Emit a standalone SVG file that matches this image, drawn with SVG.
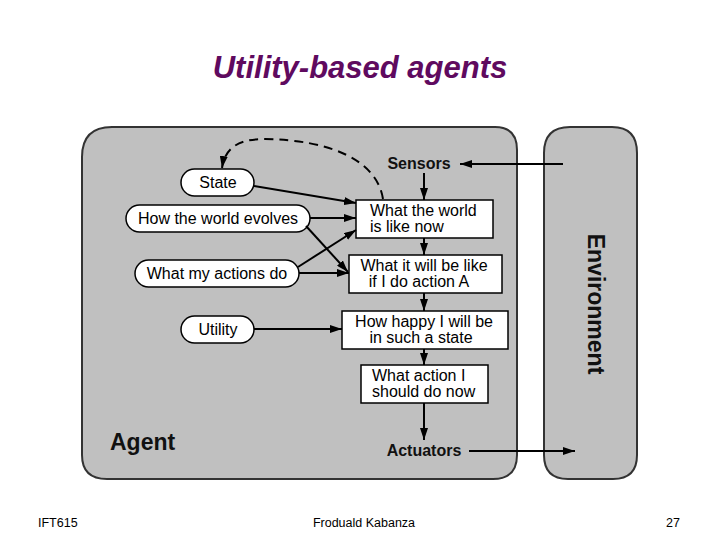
<svg xmlns="http://www.w3.org/2000/svg" width="720" height="540" viewBox="0 0 720 540">
<style>
.t{font-family:"Liberation Sans",Arial,sans-serif;font-size:16px;fill:#000}
.b{font-family:"Liberation Sans",Arial,sans-serif;font-weight:bold;fill:#111}
.pill{fill:#fff;stroke:#000;stroke-width:1.5}
.box{fill:#fff;stroke:#000;stroke-width:1.5}
.c{fill:none;stroke:#000;stroke-width:2}
.f{font-family:"Liberation Sans",Arial,sans-serif;font-size:12.5px;fill:#000}
</style>
<defs>
<marker id="ah" viewBox="0 0 12 8" refX="12" refY="4" markerWidth="12" markerHeight="8" markerUnits="userSpaceOnUse" orient="auto">
<path d="M0,0 L12,4 L0,8 z" fill="#000"/>
</marker>
</defs>
<rect width="720" height="540" fill="#fff"/>
<text x="360" y="78" text-anchor="middle" font-family="'Liberation Sans',Arial,sans-serif" font-style="italic" font-weight="bold" font-size="31" fill="#5f0a5f">Utility-based agents</text>
<g id="agent">
<path d="M112,127 L495,127 Q517,127 517,150 L517,455 Q517,479 493,479 L107,479 Q82,479 82,455 L82,157 Q82,127 112,127 z" fill="#c0c0c0" stroke="#333" stroke-width="2"/>
<text class="b" x="110" y="450" font-size="23">Agent</text>
</g>
<g id="environment">
<path d="M570,127 L612,127 Q637,127 637,153 L637,455 Q637,479 613,479 L568,479 Q544,479 544,455 L544,153 Q544,127 570,127 z" fill="#c0c0c0" stroke="#333" stroke-width="2"/>
<text class="b" x="0" y="0" font-size="23" text-anchor="middle" transform="translate(588,304) rotate(90)">Environment</text>
</g>
<g id="sensors"><text class="b" x="419" y="169" font-size="16" text-anchor="middle">Sensors</text></g>
<g id="actuators"><text class="b" x="424" y="456" font-size="16" text-anchor="middle">Actuators</text></g>
<g id="state"><rect class="pill" x="181" y="169" width="73" height="27" rx="13.5"/><text class="t" x="218" y="188" text-anchor="middle">State</text></g>
<g id="evolves"><rect class="pill" x="126" y="205" width="184" height="27" rx="13.5"/><text class="t" x="218" y="224" text-anchor="middle">How the world evolves</text></g>
<g id="actions"><rect class="pill" x="135" y="260" width="164" height="27" rx="13.5"/><text class="t" x="217" y="279" text-anchor="middle">What my actions do</text></g>
<g id="utility"><rect class="pill" x="181" y="316" width="73" height="27" rx="13.5"/><text class="t" x="218" y="335" text-anchor="middle">Utility</text></g>
<g id="now"><rect class="box" x="356" y="200" width="137" height="38"/><text class="t" x="370" y="216">What the world</text><text class="t" x="370" y="232">is like now</text></g>
<g id="willbe"><rect class="box" x="349" y="255" width="153" height="38"/><text class="t" x="424" y="271" text-anchor="middle">What it will be like</text><text class="t" x="419" y="287" text-anchor="middle">if I do action A</text></g>
<g id="happy"><rect class="box" x="342" y="311" width="166" height="38"/><text class="t" x="424" y="327" text-anchor="middle">How happy I will be</text><text class="t" x="421" y="343" text-anchor="middle">in such a state</text></g>
<g id="action"><rect class="box" x="361" y="365" width="127" height="38"/><text class="t" x="372" y="381">What action I</text><text class="t" x="372" y="397">should do now</text></g>
<g id="connectors">
<path class="c" d="M563,164 L460,164" marker-end="url(#ah)"/>
<path class="c" d="M424,173 L424,200" marker-end="url(#ah)"/>
<path class="c" d="M424,238 L424,255" marker-end="url(#ah)"/>
<path class="c" d="M424,293 L424,311" marker-end="url(#ah)"/>
<path class="c" d="M424,349 L424,365" marker-end="url(#ah)"/>
<path class="c" d="M424,403 L424,440" marker-end="url(#ah)"/>
<path class="c" d="M469,451 L575,451" marker-end="url(#ah)"/>
<path class="c" d="M254,186 L356,203" marker-end="url(#ah)"/>
<path class="c" d="M310,218 L356,218" marker-end="url(#ah)"/>
<path class="c" d="M306,226 L348,272" marker-end="url(#ah)"/>
<path class="c" d="M298,267 L356,230" marker-end="url(#ah)"/>
<path class="c" d="M299,273 L349,273" marker-end="url(#ah)"/>
<path class="c" d="M254,329 L342,329" marker-end="url(#ah)"/>
<path class="c" d="M383,199 C377,160 330,140 265,139 C238,139 225,148 222,168" stroke-dasharray="9,6" marker-end="url(#ah)"/>
</g>
<g id="footer">
<text class="f" x="38" y="527">IFT615</text>
<text class="f" x="364" y="527" text-anchor="middle">Froduald Kabanza</text>
<text class="f" x="680" y="527" text-anchor="end">27</text>
</g>
</svg>
